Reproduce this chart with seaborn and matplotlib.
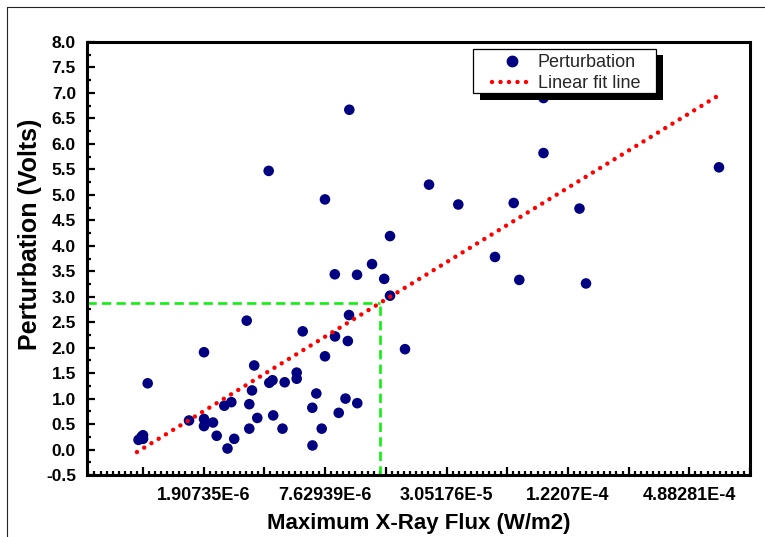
import numpy as np
import matplotlib
matplotlib.use("Agg")
import matplotlib.pyplot as plt
import seaborn as sns
from matplotlib.lines import Line2D
from matplotlib.patches import Rectangle
from matplotlib.ticker import FixedLocator, FixedFormatter, MultipleLocator, NullFormatter

# --- data ---
flux = [9.06e-7, 9.37e-7, 9.54e-7, 9.54e-7, 1.006e-6, 1.613e-6, 1.914e-6, 1.914e-6,
        1.914e-6, 2.121e-6, 2.212e-6, 2.413e-6, 2.615e-6, 2.503e-6, 2.702e-6, 3.117e-6,
        3.210e-6, 3.210e-6, 3.311e-6, 3.395e-6, 3.517e-6, 4.006e-6, 4.034e-6, 4.183e-6,
        4.218e-6, 4.690e-6, 4.809e-6, 5.515e-6, 5.515e-6, 5.907e-6, 6.592e-6, 6.605e-6,
        6.900e-6, 7.339e-6, 7.619e-6, 7.619e-6, 8.523e-6, 8.542e-6, 8.912e-6, 9.63e-6,
        9.89e-6, 1.0025e-5, 1.006e-5, 1.0987e-5, 1.1017e-5, 1.3037e-5, 1.4984e-5, 1.6011e-5,
        1.6011e-5, 1.900e-5, 2.4997e-5, 3.491e-5, 5.309e-5, 6.573e-5, 7.007e-5, 9.238e-5,
        9.238e-5, 1.3935e-4, 1.501e-4, 6.853e-4]
volts = [0.19, 0.25, 0.28, 0.21, 1.30, 0.57, 1.91, 0.60,
         0.46, 0.53, 0.27, 0.86, 0.93, 0.02, 0.21, 2.53,
         0.89, 0.41, 1.16, 1.65, 0.62, 5.47, 1.31, 1.36,
         0.67, 0.41, 1.32, 1.51, 1.39, 2.32, 0.82, 0.08,
         1.10, 0.41, 1.83, 4.91, 3.44, 2.22, 0.72, 1.00,
         2.13, 2.64, 6.67, 3.43, 0.91, 3.64, 3.35, 4.19,
         3.02, 1.97, 5.20, 4.81, 3.78, 4.84, 3.33, 5.82,
         6.90, 4.73, 3.26, 5.54]

fit_x = [8.9e-7, 6.68e-4]
fit_y = [-0.05, 6.93]

guide_x = 1.43e-5
guide_y = 2.88

major_exp = list(range(-20, -9))
tick_labels = ["", "1.90735E-6", "", "7.62939E-6", "", "3.05176E-5", "",
               "1.2207E-4", "", "4.88281E-4", ""]

sns.set_theme(style="white")
plt.rcParams["font.family"] = ["Liberation Sans", "DejaVu Sans"]

fig = plt.figure(figsize=(7.65, 5.37), dpi=100)
ax = fig.add_axes([87 / 765, 1 - 475 / 537, 663 / 765, 433 / 537])

navy = "#000080"
sns.scatterplot(x=flux, y=volts, color=navy, s=58, edgecolor="none", ax=ax,
                legend=False, zorder=3)

ax.plot(fit_x, fit_y, color="#ff0000", lw=3.2, dashes=(0.01, 1.9),
        dash_capstyle="round", zorder=3)

xmin = 2 ** -20.9226
ax.plot([xmin, guide_x], [guide_y, guide_y], color="#11ee11", lw=1.9,
        dashes=(3.5, 2.0), zorder=2)
ax.plot([guide_x, guide_x], [-0.5, guide_y], color="#11ee11", lw=1.9,
        dashes=(3.5, 2.0), zorder=2)

ax.set_xscale("log", base=2)
ax.set_xlim(xmin, 2 ** -10)
ax.set_ylim(-0.5, 8.0)

ax.xaxis.set_major_locator(FixedLocator([2.0 ** k for k in major_exp]))
ax.xaxis.set_major_formatter(FixedFormatter(tick_labels))
minor = [2.0 ** (k + i / 10) for k in range(-21, -10) for i in range(1, 10)]
ax.xaxis.set_minor_locator(FixedLocator(minor))
ax.xaxis.set_minor_formatter(NullFormatter())

ax.yaxis.set_major_locator(MultipleLocator(0.5))
ax.yaxis.set_minor_locator(MultipleLocator(0.25))
ax.yaxis.set_major_formatter(matplotlib.ticker.FormatStrFormatter("%.1f"))
ax.yaxis.set_minor_formatter(NullFormatter())

for s in ax.spines.values():
    s.set_linewidth(2.2)
    s.set_color("black")

ax.tick_params(which="both", direction="in", top=False, right=False,
               bottom=True, left=True, color="black", width=1.6)
ax.tick_params(which="major", length=5.5)
ax.tick_params(which="minor", length=2.8)
ax.tick_params(axis="x", which="major", pad=9, labelsize=13)
ax.tick_params(axis="y", which="major", pad=8, labelsize=12.5)
for lab in ax.get_xticklabels() + ax.get_yticklabels():
    lab.set_fontweight("bold")
    lab.set_color("black")

ax.set_xlabel("Maximum X-Ray Flux (W/m2)", fontsize=16, fontweight="bold", color="black")
ax.set_ylabel("Perturbation (Volts)", fontsize=18, fontweight="bold", color="black")
ax.xaxis.set_label_coords(0.5, (475 - 524) / 433)
ax.yaxis.set_label_coords((30 - 87) / 663, (475 - 234) / 433)
ax.xaxis.label.set_va("center")
ax.yaxis.label.set_va("center")

# legend: drawn frame with offset black shadow
fx0, fx1 = (473 - 87) / 663, (656 - 87) / 663
fy0, fy1 = (475 - 93) / 433, (475 - 49) / 433
ax.add_patch(Rectangle((fx0 + 6.5 / 663, fy0 - 6.5 / 433), fx1 - fx0, fy1 - fy0,
                       transform=ax.transAxes, facecolor="black", edgecolor="none",
                       clip_on=False, zorder=4.5))
ax.add_patch(Rectangle((fx0, fy0), fx1 - fx0, fy1 - fy0, transform=ax.transAxes,
                       facecolor="white", edgecolor="black", lw=0.9,
                       clip_on=False, zorder=4.6))

handles = [Line2D([], [], marker="o", color=navy, linestyle="none", markersize=7.5),
           Line2D([], [], color="#ff0000", lw=3.2, dashes=(0.01, 1.9),
                  dash_capstyle="round")]
leg = ax.legend(handles, ["Perturbation", "Linear fit line"], loc="upper left",
                bbox_to_anchor=((492 - 87) / 663, (475 - 54) / 433), frameon=False,
                borderpad=0, borderaxespad=0, handlelength=2.2, handletextpad=0.33,
                labelspacing=0.22, fontsize=13)
leg.set_zorder(5)

fig.add_artist(Line2D([7 / 765, 7 / 765], [0, 1 - 7 / 537], color="#222222", lw=0.8))
fig.add_artist(Line2D([7 / 765, 1], [1 - 7 / 537, 1 - 7 / 537], color="#222222", lw=0.8))

fig.savefig("out.png", dpi=100, facecolor="white")
